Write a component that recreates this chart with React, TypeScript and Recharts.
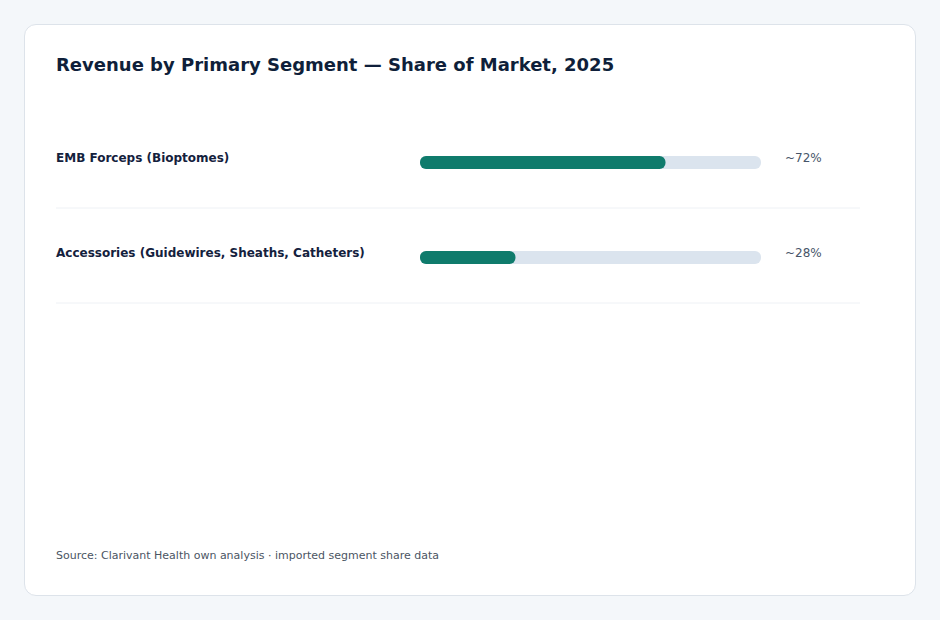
import React from 'react';
import { BarChart, Bar, XAxis, YAxis, LabelList } from 'recharts';

// segment names, share of market (%) and displayed labels
const segments = ['EMB Forceps (Bioptomes)', 'Accessories (Guidewires, Sheaths, Catheters)'];
const shares = [72, 28];
const shareLabels = ['~72%', '~28%'];

const data = segments.map((name, i) => ({ name, share: shares[i], label: shareLabels[i] }));

const FONT = '"DejaVu Sans", sans-serif';
const CHART_W = 940;
const MARGIN = { top: 0, right: 179, bottom: 0, left: 56 };

const SegmentTick = (props: any) => {
  const { y, payload } = props;
  return (
    <g>
      <text
        x={56}
        y={y - 4}
        dominantBaseline="middle"
        fontFamily={FONT}
        fontSize={12}
        fontWeight={700}
        fill="#14213d"
      >
        {payload.value}
      </text>
      <line x1={56} x2={860} y1={y + 45.5} y2={y + 45.5} stroke="#eef1f5" strokeWidth={1} />
    </g>
  );
};

const ShareLabel = (props: any) => {
  const { y, height, value } = props;
  return (
    <text
      x={CHART_W - MARGIN.right + 24}
      y={y + height / 2 - 4}
      dominantBaseline="middle"
      fontFamily={FONT}
      fontSize={12}
      fill="#475569"
    >
      {value}
    </text>
  );
};

export default function App() {
  return (
    <div
      style={{
        position: 'absolute',
        left: 0,
        top: 0,
        width: 940,
        height: 620,
        background: '#f4f7fa',
        fontFamily: FONT,
      }}
    >
      <div
        style={{
          position: 'absolute',
          left: 24,
          top: 24,
          width: 890,
          height: 570,
          background: '#ffffff',
          border: '1px solid #dde3ea',
          borderRadius: 12,
        }}
      />
      <div
        style={{
          position: 'absolute',
          left: 56,
          top: 54,
          fontSize: 18,
          fontWeight: 700,
          color: '#0f1f3a',
          whiteSpace: 'nowrap',
        }}
      >
        Revenue by Primary Segment — Share of Market, 2025
      </div>
      <div style={{ position: 'absolute', left: 0, top: 115 }}>
        <BarChart width={CHART_W} height={190} data={data} layout="vertical" margin={MARGIN}>
          <XAxis type="number" domain={[0, 100]} hide />
          <YAxis
            type="category"
            dataKey="name"
            width={364}
            axisLine={false}
            tickLine={false}
            tick={<SegmentTick />}
          />
          <Bar
            dataKey="share"
            fill="#0f7b6c"
            barSize={13}
            radius={[6, 6, 6, 6]}
            background={{ fill: '#dbe4ee', radius: 6 } as any}
            isAnimationActive={false}
          >
            <LabelList dataKey="label" content={<ShareLabel />} />
          </Bar>
        </BarChart>
      </div>
      <div
        style={{
          position: 'absolute',
          left: 56,
          top: 549,
          fontSize: 11,
          color: '#4b5563',
          whiteSpace: 'nowrap',
        }}
      >
        Source: Clarivant Health own analysis · imported segment share data
      </div>
    </div>
  );
}
